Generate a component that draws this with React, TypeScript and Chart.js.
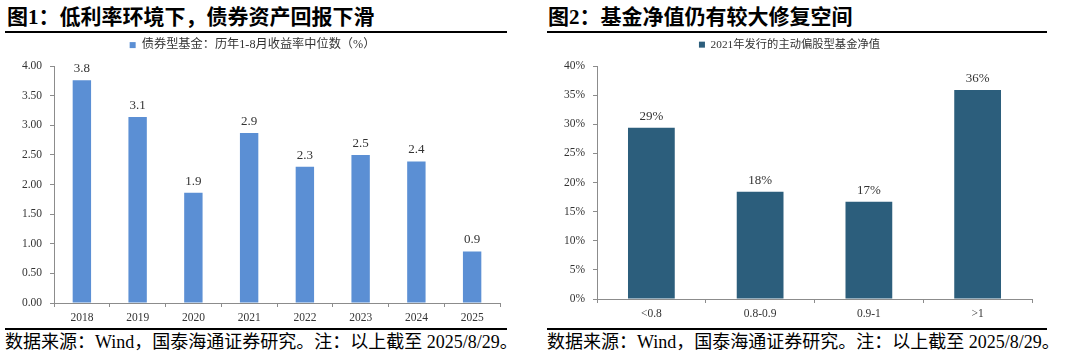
import React, { useEffect, useRef } from "react";
import { Chart, registerables } from "chart.js";

Chart.register(...registerables);

const leftCategories = ["2018", "2019", "2020", "2021", "2022", "2023", "2024", "2025"];
const leftValues = [3.76, 3.14, 1.86, 2.87, 2.3, 2.5, 2.39, 0.87];
const leftLegend = "债券型基金：历年1-8月收益率中位数（%）";
const leftTitle = "图1：低利率环境下，债券资产回报下滑";

const rightCategories = ["<0.8", "0.8-0.9", "0.9-1", ">1"];
const rightValues = [29.4, 18.4, 16.7, 35.9];
const rightLegend = "2021年发行的主动偏股型基金净值";
const rightTitle = "图2：基金净值仍有较大修复空间";

const footerText = "数据来源：Wind，国泰海通证券研究。注：以上截至 2025/8/29。";

const SERIF = "'Liberation Serif', 'Times New Roman', 'Noto Sans CJK SC', serif";

type Cfg = {
  categories: string[];
  values: number[];
  legend: string;
  legendFont: number;
  color: string;
  max: number;
  step: number;
  tickFmt: (v: number) => string;
  labelFmt: (v: number) => string;
  yWidth: number;
  xHeight: number;
  padRight: number;
  legendHeight: number;
  barFrac: number;
};

function BarChart({ cfg, style }: { cfg: Cfg; style: React.CSSProperties }) {
  const ref = useRef<HTMLCanvasElement>(null);
  useEffect(() => {
    const valuePlugin = {
      id: "valueLabels",
      afterDatasetsDraw(chart: any) {
        const ctx = chart.ctx;
        const meta = chart.getDatasetMeta(0);
        ctx.save();
        ctx.font = `13px ${SERIF}`;
        ctx.fillStyle = "#333333";
        ctx.textAlign = "center";
        ctx.textBaseline = "bottom";
        meta.data.forEach((el: any, i: number) => {
          ctx.fillText(cfg.labelFmt(cfg.values[i]), el.x, el.y - 5);
        });
        ctx.restore();
      },
    };
    const legendFitPlugin = {
      id: "legendFit",
      beforeInit(chart: any) {
        const lg = chart.legend;
        if (lg) {
          const orig = lg.fit;
          lg.fit = function () {
            orig.call(this);
            this.height = cfg.legendHeight;
          };
        }
      },
    };
    const chart = new Chart(ref.current!, {
      type: "bar",
      data: {
        labels: cfg.categories,
        datasets: [
          {
            label: cfg.legend,
            data: cfg.values,
            backgroundColor: cfg.color,
            borderWidth: 0,
            barPercentage: cfg.barFrac,
            categoryPercentage: 1,
          },
        ],
      },
      options: {
        animation: false,
        responsive: false,
        maintainAspectRatio: false,
        layout: { padding: { top: 0, left: 0, right: cfg.padRight, bottom: 0 } },
        plugins: {
          tooltip: { enabled: false },
          legend: {
            display: true,
            position: "top",
            labels: {
              boxWidth: 6,
              boxHeight: 6,
              padding: 4,
              color: "#333333",
              font: { size: cfg.legendFont, family: SERIF },
            },
          },
        },
        scales: {
          x: {
            grid: {
              display: true,
              drawOnChartArea: false,
              drawTicks: true,
              tickLength: 4,
              color: "#8c8c8c",
              offset: true,
            },
            border: { display: true, color: "#8c8c8c" },
            ticks: {
              color: "#333333",
              font: { size: 11.5, family: SERIF },
              padding: 4,
              maxRotation: 0,
            },
            afterFit(scale: any) {
              scale.height = cfg.xHeight;
            },
          },
          y: {
            min: 0,
            max: cfg.max,
            grid: {
              display: true,
              drawOnChartArea: false,
              drawTicks: true,
              tickLength: 4,
              color: "#8c8c8c",
            },
            border: { display: true, color: "#8c8c8c" },
            ticks: {
              stepSize: cfg.step,
              color: "#333333",
              font: { size: 11.5, family: SERIF },
              padding: 8,
              callback: (v: any) => cfg.tickFmt(Number(v)),
            },
            afterFit(scale: any) {
              scale.width = cfg.yWidth;
            },
          },
        },
      },
      plugins: [valuePlugin, legendFitPlugin],
    } as any);
    return () => chart.destroy();
  }, []);
  return (
    <canvas
      ref={ref}
      width={style.width as number}
      height={style.height as number}
      style={{ position: "absolute", ...style }}
    />
  );
}

const leftCfg: Cfg = {
  categories: leftCategories,
  values: leftValues,
  legend: leftLegend,
  legendFont: 12.2,
  color: "#5b8fd4",
  max: 4,
  step: 0.5,
  tickFmt: (v) => v.toFixed(2),
  labelFmt: (v) => v.toFixed(1),
  yWidth: 49,
  xHeight: 22,
  padRight: 10,
  legendHeight: 31,
  barFrac: 0.33,
};

const rightCfg: Cfg = {
  categories: rightCategories,
  values: rightValues,
  legend: rightLegend,
  legendFont: 11.3,
  color: "#2c5e7c",
  max: 40,
  step: 5,
  tickFmt: (v) => `${Math.round(v)}%`,
  labelFmt: (v) => `${Math.round(v)}%`,
  yWidth: 50,
  xHeight: 26,
  padRight: 15,
  legendHeight: 31,
  barFrac: 0.43,
};

const titleStyle: React.CSSProperties = {
  position: "absolute",
  top: 5,
  fontFamily: SERIF,
  fontWeight: 700,
  fontSize: 21,
  lineHeight: "24px",
  color: "#000",
  whiteSpace: "nowrap",
};

const footStyle: React.CSSProperties = {
  position: "absolute",
  top: 331,
  fontFamily: SERIF,
  fontSize: 18,
  lineHeight: "22px",
  color: "#000",
  whiteSpace: "nowrap",
};

const line = (left: number, top: number, width: number): React.CSSProperties => ({
  position: "absolute",
  left,
  top,
  width,
  height: 2,
  background: "#000",
});

export default function App() {
  return (
    <div
      style={{
        position: "fixed",
        left: 0,
        top: 0,
        width: 1080,
        height: 361,
        background: "#fff",
        overflow: "hidden",
      }}
    >
      <div style={{ ...titleStyle, left: 7 }}>{leftTitle}</div>
      <div style={{ ...titleStyle, left: 548 }}>{rightTitle}</div>
      <div style={line(5, 31, 502)} />
      <div style={line(547, 31, 500)} />
      <BarChart cfg={leftCfg} style={{ left: 5, top: 35, width: 505, height: 290 }} />
      <BarChart cfg={rightCfg} style={{ left: 547, top: 35, width: 500, height: 290 }} />
      <div style={line(5, 328, 502)} />
      <div style={line(547, 328, 500)} />
      <div style={{ ...footStyle, left: 5 }}>{footerText}</div>
      <div style={{ ...footStyle, left: 547 }}>{footerText}</div>
    </div>
  );
}
